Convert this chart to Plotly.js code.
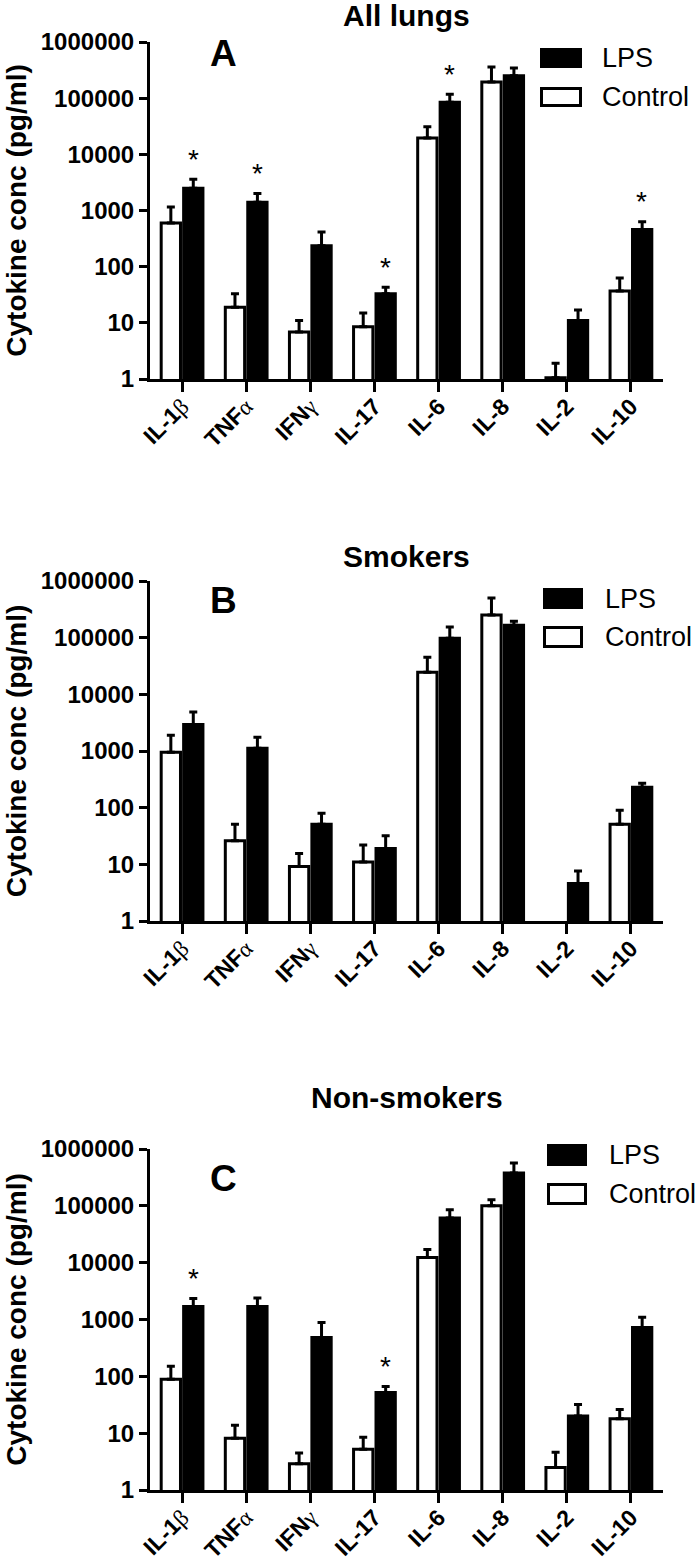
<!DOCTYPE html>
<html>
<head>
<meta charset="utf-8">
<script src="https://cdn.plot.ly/plotly-3.0.1.min.js"></script>
<style>html,body{margin:0;padding:0;background:#fff;}#chart{width:695px;height:1565px;}</style>
</head>
<body>
<div id="chart"></div>
<script>
// ---- Data ----
const categories = ['IL-1β', 'TNFα', 'IFNγ', 'IL-17', 'IL-6', 'IL-8', 'IL-2', 'IL-10'];
const tickLabels = [
  'IL-1<span style="font-family:Liberation Serif;font-weight:normal">β</span>',
  'TNF<span style="font-family:Liberation Serif;font-weight:normal">α</span>',
  'IFN<span style="font-family:Liberation Serif;font-weight:normal">γ</span>',
  'IL-17', 'IL-6', 'IL-8', 'IL-2', 'IL-10'
];
const yTickVals = [1, 10, 100, 1000, 10000, 100000, 1000000];
const yTickText = ['1', '10', '100', '1000', '10000', '100000', '1000000'];
const seriesNames = ['LPS', 'Control'];
const panelTitles = ['All lungs', 'Smokers', 'Non-smokers'];
const panelLetters = ['A', 'B', 'C'];
const yTitle = 'Cytokine conc (pg/ml)';

// Panel A: All lungs
const allControl    = [600, 19, 6.9, 8.5, 19500, 195000, 1.05, 37];
const allControlErr = [550, 14, 4.1, 6.5, 11500, 165000, 0.85, 26];
const allLPS        = [2500, 1400, 235, 33, 85000, 250000, 11, 460];
const allLPSErr     = [1100, 600, 180, 10, 33000, 95000, 6, 170];
const allSig        = [true, true, false, true, true, false, false, true];

// Panel B: Smokers
const smkControl    = [950, 26, 9.2, 11, 24500, 250000, null, 51];
const smkControlErr = [950, 25, 6.4, 11, 20500, 250000, null, 39];
const smkLPS        = [2950, 1120, 51, 19, 98000, 165000, 4.6, 230];
const smkLPSErr     = [1950, 630, 29, 13, 57000, 30000, 3, 40];
const smkSig        = [false, false, false, false, false, false, false, false];

// Panel C: Non-smokers
const nonControl    = [89, 8.1, 2.9, 5.2, 12300, 100000, 2.5, 18];
const nonControlErr = [61, 5.7, 1.6, 3.3, 4700, 28000, 2.1, 8];
const nonLPS        = [1700, 1700, 480, 52, 61000, 380000, 20, 720];
const nonLPSErr     = [650, 700, 410, 14, 24000, 185000, 12, 380];
const nonSig        = [true, false, false, true, false, false, false, false];

const panels = [
  {control: allControl, controlErr: allControlErr, lps: allLPS, lpsErr: allLPSErr, sig: allSig},
  {control: smkControl, controlErr: smkControlErr, lps: smkLPS, lpsErr: smkLPSErr, sig: smkSig},
  {control: nonControl, controlErr: nonControlErr, lps: nonLPS, lpsErr: nonLPSErr, sig: nonSig}
];

// ---- Layout geometry (pixels) ----
const W = 695, H = 1565;
const px = x => x / W;
const py = y => 1 - y / H;
const plotLeft = 150, plotRight = 663;
const plotTops = [42, 581, 1149];
const plotBottoms = [379, 921, 1490];
const titleY = [15, 556, 1097];
const letterY = [54, 600, 1178];
const legendTop = [[48, 68], [588, 609], [1144, 1166]];
const legendBot = [[87, 107], [626, 648], [1183, 1205]];
const legendX = [[540, 582, 600], [543, 583, 603], [547, 587, 607]];

const FONT = 'Liberation Sans, Arial, Helvetica, sans-serif';
const zeros = n => new Array(n).fill(0);

const traces = [];
const layout = {
  width: W, height: H,
  margin: {l: 0, r: 0, t: 0, b: 0},
  paper_bgcolor: '#ffffff',
  plot_bgcolor: '#ffffff',
  showlegend: false,
  barmode: 'group',
  bargap: 0.30,
  bargroupgap: 0.14,
  annotations: [],
  shapes: []
};

panels.forEach((p, i) => {
  const sfx = i === 0 ? '' : String(i + 1);
  const xa = 'x' + sfx, ya = 'y' + sfx;
  traces.push({
    type: 'bar', name: seriesNames[1], x: categories, y: p.control,
    xaxis: xa, yaxis: ya,
    marker: {color: '#ffffff', line: {color: '#000000', width: 3}},
    error_y: {type: 'data', symmetric: false, array: p.controlErr, arrayminus: zeros(8),
              color: '#000000', thickness: 3, width: 4},
    hoverinfo: 'x+y'
  });
  traces.push({
    type: 'bar', name: seriesNames[0], x: categories, y: p.lps,
    xaxis: xa, yaxis: ya,
    marker: {color: '#000000', line: {color: '#000000', width: 3}},
    error_y: {type: 'data', symmetric: false, array: p.lpsErr, arrayminus: zeros(8),
              color: '#000000', thickness: 3, width: 4},
    hoverinfo: 'x+y'
  });

  layout['xaxis' + sfx] = {
    domain: [px(plotLeft), px(plotRight)],
    anchor: ya,
    type: 'category',
    range: [-0.5, 7.5],
    tickvals: categories,
    ticktext: tickLabels,
    tickangle: -45,
    ticks: 'outside', ticklen: 10, tickwidth: 3, tickcolor: '#000',
    ticklabelstandoff: -8,
    showline: true, linewidth: 3, linecolor: '#000',
    showgrid: false, zeroline: false,
    tickfont: {family: FONT, size: 23, color: '#000', weight: 'bold'},
    fixedrange: true
  };
  layout['yaxis' + sfx] = {
    domain: [py(plotBottoms[i]), py(plotTops[i])],
    anchor: xa,
    type: 'log',
    range: [0, 6],
    tickvals: yTickVals,
    ticktext: yTickText,
    ticks: 'outside', ticklen: 8, tickwidth: 3, tickcolor: '#000',
    showline: true, linewidth: 3, linecolor: '#000',
    showgrid: false, zeroline: false,
    tickfont: {family: FONT, size: 24, color: '#000', weight: 'bold'},
    title: {text: yTitle, font: {family: FONT, size: 28, color: '#000', weight: 'bold'}, standoff: 6},
    fixedrange: true
  };

  // Panel title
  layout.annotations.push({
    xref: 'paper', yref: 'paper', x: px((plotLeft + plotRight) / 2), y: py(titleY[i]),
    xanchor: 'center', yanchor: 'middle', showarrow: false,
    text: panelTitles[i], font: {family: FONT, size: 30, color: '#000', weight: 'bold'}
  });
  // Panel letter
  layout.annotations.push({
    xref: 'paper', yref: 'paper', x: px(224), y: py(letterY[i]),
    xanchor: 'center', yanchor: 'middle', showarrow: false,
    text: panelLetters[i], font: {family: FONT, size: 37, color: '#000', weight: 'bold'}
  });
  // Significance asterisks above LPS bars
  p.sig.forEach((s, k) => {
    if (!s) return;
    layout.annotations.push({
      xref: xa, yref: ya, x: categories[k], y: Math.log10(p.lps[k] + p.lpsErr[k]),
      xshift: 11, yshift: 20, xanchor: 'center', yanchor: 'middle', showarrow: false,
      text: '*', font: {family: FONT, size: 28, color: '#000'}
    });
  });
  // Manual legend (large swatches as in the original)
  const [x0, x1, tx] = legendX[i];
  const rows = [[legendTop[i], '#000000', seriesNames[0]], [legendBot[i], '#ffffff', seriesNames[1]]];
  rows.forEach(([yy, fill, label]) => {
    layout.shapes.push({
      type: 'rect', xref: 'paper', yref: 'paper',
      x0: px(x0 + 1.5), x1: px(x1 - 1.5), y0: py(yy[1] - 1.5), y1: py(yy[0] + 1.5),
      fillcolor: fill, line: {color: '#000', width: 3}
    });
    layout.annotations.push({
      xref: 'paper', yref: 'paper', x: px(tx), y: py((yy[0] + yy[1]) / 2),
      xanchor: 'left', yanchor: 'middle', showarrow: false,
      text: label, font: {family: FONT, size: 27, color: '#000'}
    });
  });
});

Plotly.newPlot('chart', traces, layout, {staticPlot: true, displayModeBar: false});
</script>
</body>
</html>
